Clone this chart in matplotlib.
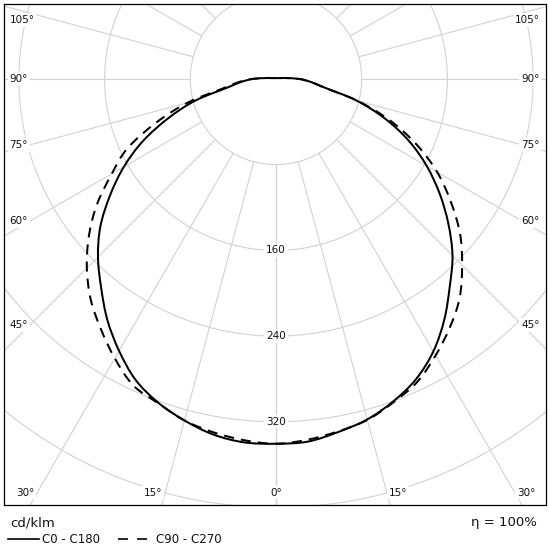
import numpy as np
import matplotlib
matplotlib.use("Agg")
import matplotlib.pyplot as plt
from matplotlib.lines import Line2D
from matplotlib.path import Path
from matplotlib.patches import PathPatch

# ---------------- data (cd/klm) ----------------
gamma = [0, 5, 10, 15, 20, 25, 30, 35, 40, 45, 50, 55, 60, 65, 70, 75, 80, 85, 90, 95, 100, 110, 120, 180]
c0 = [340.5, 339.8, 334.6, 329.0, 320.2, 309.2, 293.7, 274.0, 252.4, 233.0, 210.0, 186.5, 162.5, 137.0, 108.5, 78.0, 46.0, 33.0, 22.0, 10.0, 5.0, 2.5, 1.7, 0.85]
c180 = [340.5, 340.5, 337.0, 330.0, 321.5, 310.0, 293.0, 274.5, 254.0, 235.0, 214.0, 189.0, 164.0, 137.0, 107.0, 78.0, 46.0, 33.0, 22.0, 10.0, 5.0, 2.5, 1.7, 0.85]
c90 = [340.5, 338.0, 334.0, 329.5, 321.0, 312.0, 298.0, 283.0, 266.7, 245.7, 224.2, 199.0, 173.7, 144.8, 113.3, 79.0, 45.0, 33.0, 22.0, 10.0, 5.0, 2.5, 1.7, 0.85]
c270 = [340.5, 338.5, 335.0, 330.0, 322.0, 315.5, 301.0, 285.0, 269.0, 249.7, 228.0, 204.0, 177.0, 152.9, 119.1, 85.4, 50.0, 35.5, 23.0, 10.0, 5.0, 2.5, 1.7, 0.85]

rings = [80, 160, 240, 320, 400, 480]
ring_labels = [160, 240, 320]
spokes = list(range(0, 181, 15))
side_angles = [45, 60, 75, 90, 105]
bottom_angles = [0, 15, 30]
legend_names = ["C0 - C180", "C90 - C270"]
unit_text = "cd/klm"
eta_text = "η = 100%"

# ---------------- layout ----------------
W = H = 550
CX, CY = 276.0, 79.0          # pixel position of polar centre
K = 85.7 / 80.0               # pixels per cd/klm
FL, FR, FT, FB = 4.0, 546.0, 4.0, 505.0
TXT = '#111111'
GRID = '#d2d2d2'

fig = plt.figure(figsize=(5.5, 5.5), dpi=100)
ax = fig.add_axes([FL / W, 1 - FB / H, (FR - FL) / W, (FB - FT) / H])
ax.set_xlim((FL - CX) / K, (FR - CX) / K)
ax.set_ylim(-(FB - CY) / K, (CY - FT) / K)
ax.set_xticks([])
ax.set_yticks([])
for s in ax.spines.values():
    s.set_linewidth(0.9)
    s.set_color('black')
    s.set_zorder(10)

def px2data(px, py):
    return (px - CX) / K, -(py - CY) / K

# grid
t = np.linspace(0, 2 * np.pi, 721)
for r in rings:
    ax.plot(r * np.cos(t), r * np.sin(t), color=GRID, lw=0.8, zorder=1)
for a in spokes:
    ar = np.radians(a)
    for sgn in (1, -1):
        ax.plot([sgn * rings[0] * np.sin(ar), sgn * 1200 * np.sin(ar)],
                [-rings[0] * np.cos(ar), -1200 * np.cos(ar)], color=GRID, lw=0.8, zorder=1)

# curves
def curve(right, left):
    g = np.radians(gamma)
    r = np.asarray(right, float)
    l = np.asarray(left, float)
    xr, yr = r * np.sin(g), -r * np.cos(g)
    xl, yl = -l * np.sin(g), -l * np.cos(g)
    return np.concatenate([xl[::-1], xr[1:]]), np.concatenate([yl[::-1], yr[1:]])

def smooth_path(x, y):
    # Catmull-Rom through the data points rendered as cubic Bezier segments
    P = np.column_stack([x, y])
    n = len(P)
    verts = [P[0]]
    codes = [Path.MOVETO]
    for i in range(n - 1):
        p0 = P[i - 1] if i > 0 else P[i]
        p1 = P[i]
        p2 = P[i + 1]
        p3 = P[i + 2] if i + 2 < n else P[i + 1]
        c1 = p1 + (p2 - p0) / 6.0
        c2 = p2 - (p3 - p1) / 6.0
        verts += [c1, c2, p2]
        codes += [Path.CURVE4] * 3
    return Path(np.array(verts), codes)

x1, y1 = curve(c0, c180)
x2, y2 = curve(c90, c270)
ax.add_patch(PathPatch(smooth_path(x2, y2), fill=False, edgecolor='black', lw=1.45,
                       linestyle=(0, (5, 3.5)), zorder=4))
ax.add_patch(PathPatch(smooth_path(x1, y1), fill=False, edgecolor='black', lw=1.45, zorder=5))

bbox = dict(facecolor='white', edgecolor='none', pad=1.2)
FS = 7.5

# ring labels
for r in ring_labels:
    ax.text(0, -r, str(r), ha='center', va='center', fontsize=FS, color=TXT, bbox=bbox, zorder=6)

# side angle labels
for a in side_angles:
    dy = 246.0 / np.tan(np.radians(a)) if a != 90 else 0.0
    py = CY + dy
    va = 'top' if a > 90 else 'center'
    if a > 90:
        py += 2
    xl, yl = px2data(9.5, py)
    xr, yr = px2data(539.5, py)
    ax.text(xl, yl, f"{a}°", ha='left', va=va, fontsize=FS, color=TXT, bbox=bbox, zorder=6)
    ax.text(xr, yr, f"{a}°", ha='right', va=va, fontsize=FS, color=TXT, bbox=bbox, zorder=6)

# bottom angle labels
PYB = 492.7
for a in bottom_angles:
    dx = (PYB - CY) * np.tan(np.radians(a))
    if a == 0:
        x0, y0 = px2data(CX, PYB)
        ax.text(x0, y0, f"{a}°", ha='center', va='center', fontsize=FS, color=TXT, bbox=bbox, zorder=6)
    else:
        xl, yl = px2data(CX - dx - 3, PYB)
        xr, yr = px2data(CX + dx + 2, PYB)
        ax.text(xl, yl, f"{a}°", ha='right', va='center', fontsize=FS, color=TXT, bbox=bbox, zorder=6)
        ax.text(xr, yr, f"{a}°", ha='left', va='center', fontsize=FS, color=TXT, bbox=bbox, zorder=6)

# legend / footer
def fx(px):
    return px / W
def fy(py):
    return 1 - py / H

fig.text(fx(10), fy(522.5), unit_text, ha='left', va='center', fontsize=9.5, color=TXT)
fig.text(fx(537), fy(522.5), eta_text, ha='right', va='center', fontsize=9.5, color=TXT)
LY = 539.3
fig.add_artist(Line2D([fx(8), fx(38.5)], [fy(LY), fy(LY)], color='black', lw=1.2))
fig.text(fx(41.5), fy(LY), legend_names[0], ha='left', va='center', fontsize=8.5, color=TXT)
fig.add_artist(Line2D([fx(118), fx(147.5)], [fy(LY), fy(LY)], color='black', lw=1.2,
                      ls=(0, (7.2 / 1.2, 6.5 / 1.2))))
fig.text(fx(156.5), fy(LY), legend_names[1], ha='left', va='center', fontsize=8.5, color=TXT)

fig.savefig("out.png", dpi=100, facecolor='white')
